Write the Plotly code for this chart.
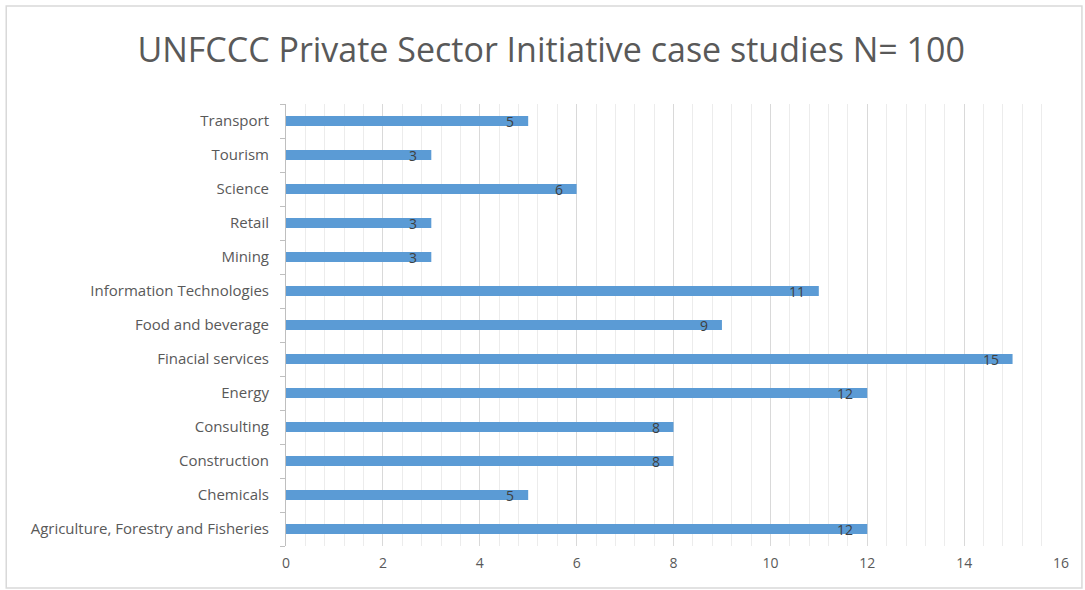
import plotly.graph_objects as go

categories = [
    "Agriculture, Forestry and Fisheries", "Chemicals", "Construction", "Consulting",
    "Energy", "Finacial services", "Food and beverage", "Information Technologies",
    "Mining", "Retail", "Science", "Tourism", "Transport",
]
values = [12, 5, 8, 8, 12, 15, 9, 11, 3, 3, 6, 3, 5]
x_ticks = [0, 2, 4, 6, 8, 10, 12, 14, 16]

bar_color = "#5B9BD5"
text_color = "#595959"
font_family = "Open Sans"

fig = go.Figure()
fig.add_trace(go.Bar(
    y=categories, x=values, orientation="h",
    marker=dict(color=bar_color, line=dict(width=0)),
    width=0.3, hoverinfo="x+y",
))

for c, v in zip(categories, values):
    fig.add_annotation(
        x=v, y=c, text=str(v), showarrow=False, xanchor="right", yanchor="middle",
        xshift=-12, font=dict(family=font_family, size=14, color="#404040"),
    )

fig.update_layout(
    width=1085, height=590,
    margin=dict(l=286, r=24, t=104, b=44),
    paper_bgcolor="white", plot_bgcolor="white",
    showlegend=False,
    title=dict(
        text="UNFCCC Private Sector Initiative case studies N= 100",
        x=0.508, xref="container", xanchor="center", y=0.915, yanchor="middle",
        font=dict(family=font_family, size=34, color=text_color),
    ),
    font=dict(family=font_family, color=text_color, size=14),
    xaxis=dict(
        range=[0, 16], tickvals=x_ticks, ticktext=[str(t) for t in x_ticks],
        showgrid=True, gridcolor="#d9d9d9", gridwidth=1,
        minor=dict(dtick=0.4, tick0=0, showgrid=True, gridcolor="#ececec", gridwidth=1),
        zeroline=False, showline=False, ticks="",
        tickfont=dict(size=14, color=text_color),
        ticklabelstandoff=7,
    ),
    yaxis=dict(
        categoryorder="array", categoryarray=categories,
        showline=True, linecolor="#bfbfbf", linewidth=1,
        ticks="outside", tickson="boundaries", ticklen=5, tickcolor="#bfbfbf",
        showgrid=False, zeroline=False,
        tickfont=dict(size=15, color=text_color),
        ticklabelstandoff=13,
    ),
    shapes=[dict(
        type="rect", xref="paper", yref="paper",
        x0=-0.361, x1=1.027, y0=-0.095, y1=1.2217,
        line=dict(color="#d9d9d9", width=1.5), fillcolor="rgba(0,0,0,0)", layer="below",
    )],
)

fig.write_html("out.html")
